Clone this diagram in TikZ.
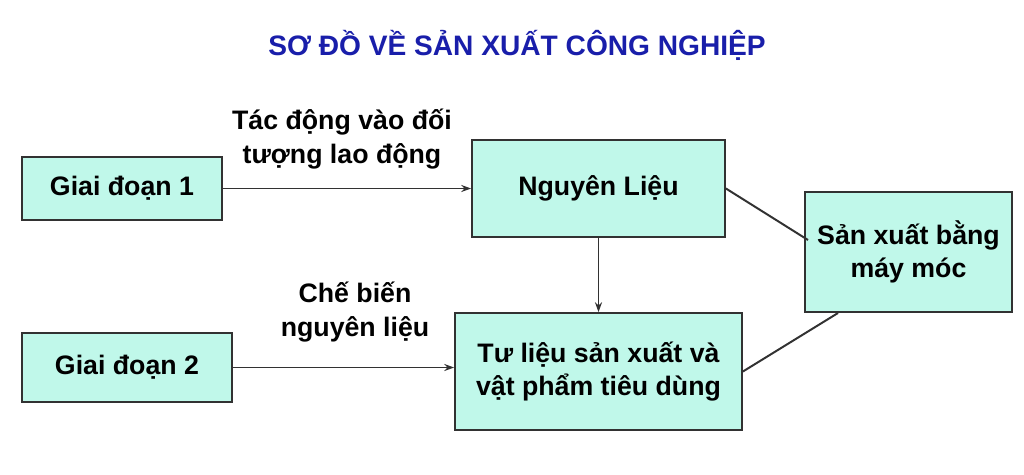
\documentclass[tikz,border=0pt]{standalone}
\usepackage{fontspec}
\setmainfont{Liberation Sans}
\usetikzlibrary{arrows.meta}
\definecolor{boxfill}{RGB}{192,248,234}
\definecolor{boxdraw}{RGB}{50,50,50}
\definecolor{titleblue}{RGB}{25,30,170}
\begin{document}
\begin{tikzpicture}[x=0.025cm,y=-0.025cm,
  stage/.style={draw=boxdraw,line width=1.3pt,fill=boxfill,inner sep=0pt,font=\fontsize{19}{23}\selectfont\bfseries,align=center},
  lbl/.style={font=\fontsize{19}{24}\selectfont\bfseries,align=center},
  conn/.style={draw=boxdraw,line width=1.4pt},
  arr/.style={conn,-{Stealth[length=7pt,width=5pt]}}]
\path[use as bounding box,fill=white] (0,0) rectangle (1024,474);
\node[font=\fontsize{20}{24}\selectfont\bfseries,text=titleblue] (title) at (517,45) {SƠ ĐỒ VỀ SẢN XUẤT CÔNG NGHIỆP};
\node[stage,minimum width=200*0.025cm,minimum height=63*0.025cm] (g1) at (122,188.5) {Giai đoạn 1};
\node[stage,minimum width=253*0.025cm,minimum height=97*0.025cm] (nl) at (598.5,188.5) {Nguyên Liệu};
\node[stage,minimum width=207*0.025cm,minimum height=120*0.025cm] (sx) at (908.5,252) {Sản xuất bằng\\máy móc};
\node[stage,minimum width=210*0.025cm,minimum height=69*0.025cm] (g2) at (127,367.5) {Giai đoạn 2};
\node[stage,minimum width=287*0.025cm,minimum height=117*0.025cm] (tl) at (598.5,371.5) {Tư liệu sản xuất và\\vật phẩm tiêu dùng};
\node[lbl] (l1) at (342,139) {Tác động vào đối\\tượng lao động};
\node[lbl] (l2) at (355,312) {Chế biến\\nguyên liệu};
\draw[arr] (g1.east) -- (nl.west);
\draw[arr] (g2.east) -- (tl.west |- g2.east);
\draw[arr] (nl.south) -- (tl.north);
\coordinate (a1) at (808,240);
\coordinate (a2) at (838,313);
\draw[conn] (nl.east) -- (a1);
\draw[conn] (tl.east) -- (a2);
\end{tikzpicture}
\end{document}
